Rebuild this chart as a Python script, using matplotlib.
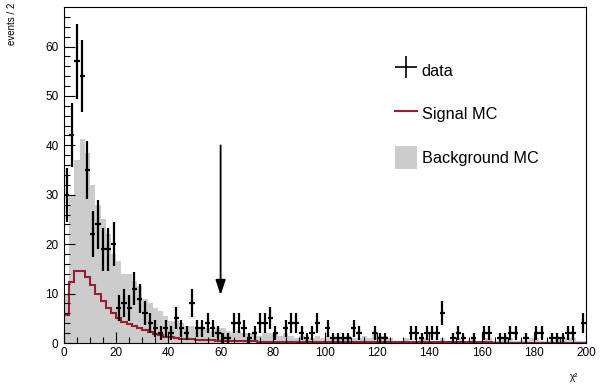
import numpy as np
import matplotlib
matplotlib.use("Agg")
import matplotlib.pyplot as plt
from matplotlib.lines import Line2D
from matplotlib.patches import Patch

plt.rcParams['font.family'] = ['Liberation Sans', 'DejaVu Sans']

# 100 bins of width 2 between 0 and 200
bin_edges = np.arange(0, 202, 2)
bin_centers = bin_edges[:-1] + 1

data_counts = [
    30, 42, 57, 54, 35, 22, 24, 19, 19, 20,
    7, 8, 7, 11, 9, 6, 4, 3, 2, 3,
    2, 5, 3, 2, 8, 3, 3, 4, 3, 2,
    1, 1, 4, 4, 3, 1, 2, 4, 4, 5,
    2, 0, 3, 4, 4, 2, 1, 2, 4, 0,
    3, 1, 1, 1, 1, 3, 2, 0, 0, 2,
    1, 1, 0, 0, 0, 0, 2, 2, 1, 2,
    2, 2, 6, 0, 1, 2, 1, 0, 1, 0,
    2, 2, 0, 1, 1, 2, 2, 0, 1, 0,
    2, 2, 0, 1, 1, 1, 2, 2, 0, 4,
]

background_mc = [
    10, 30, 37, 41.3, 38.5, 32, 28, 25, 22, 18,
    16.5, 14, 14, 12.5, 11.5, 9, 8, 7, 6.5, 5.5,
    4.5, 4.5, 4, 3.5, 3.5, 3, 3, 3, 2.5, 3,
    3, 2.5, 2, 2.5, 2, 2, 2, 1.5, 2, 2,
    2, 1.5, 2, 1.5, 1, 1.5, 1, 1, 1.5, 1,
    1.5, 1, 1, 1, 1.5, 1, 1, 1.5, 1, 2,
    1.5, 1.5, 1, 0.5, 0.5, 1, 0.5, 0.5, 1, 1,
    0.5, 0.5, 1, 0.5, 0.5, 1, 0.5, 0.5, 1, 0.5,
    1, 1, 0.5, 0.5, 1, 1, 0.5, 0.5, 0.5, 1,
    1, 0.5, 0.5, 0.5, 1, 0.5, 1, 1, 0.5, 0.5,
]

signal_mc = [
    5.7, 12.4, 14.6, 14.6, 13.4, 11.7, 10.0, 8.5, 7.1, 6.0,
    5.0, 4.3, 3.9, 3.4, 3.0, 2.6, 2.3, 1.9, 1.6, 1.3,
    1.15, 1.0, 0.9, 0.8, 0.75, 0.7, 0.65, 0.6, 0.55, 0.5,
    0.45, 0.42, 0.4, 0.38, 0.36, 0.34, 0.32, 0.3, 0.29, 0.28,
    0.27, 0.26, 0.25, 0.24, 0.23, 0.22, 0.21, 0.2, 0.2, 0.19,
    0.19, 0.18, 0.18, 0.18, 0.17, 0.17, 0.17, 0.16, 0.16, 0.16,
    0.15, 0.15, 0.15, 0.15, 0.14, 0.14, 0.14, 0.14, 0.13, 0.13,
    0.13, 0.13, 0.12, 0.12, 0.12, 0.12, 0.12, 0.11, 0.11, 0.11,
    0.11, 0.11, 0.1, 0.1, 0.1, 0.1, 0.1, 0.1, 0.1, 0.1,
    0.1, 0.1, 0.1, 0.1, 0.1, 0.1, 0.1, 0.1, 0.1, 0.1,
]

cut_value = 60
arrow_top = 40
arrow_tip = 9.7

bkg_color = '#cccccc'
sig_color = '#9b1b30'

fig = plt.figure(figsize=(6.0, 3.86), dpi=100)
ax = fig.add_axes([64 / 600, 43 / 386, 522 / 600, 336 / 386])

ax.stairs(background_mc, bin_edges, fill=True, color=bkg_color, lw=0)
ax.stairs(signal_mc, bin_edges, color=sig_color, lw=1.5, baseline=None)

counts = np.array(data_counts, dtype=float)
has_data = counts > 0
ax.errorbar(bin_centers[has_data], counts[has_data], xerr=1,
            yerr=np.sqrt(counts[has_data]), fmt='none', ecolor='black',
            elinewidth=1.6, capsize=0)

ax.annotate('', xy=(cut_value, arrow_tip), xytext=(cut_value, arrow_top),
            arrowprops=dict(arrowstyle='-|>,head_length=0.6,head_width=0.2',
                            color='black', lw=1.3, mutation_scale=15,
                            shrinkA=0, shrinkB=0))

ax.set_xlim(0, 200)
ax.set_ylim(0, 68)
ax.set_xticks(np.arange(0, 201, 20))
ax.set_xticks(np.arange(0, 201, 5), minor=True)
ax.set_yticks(np.arange(0, 61, 10))
ax.set_yticks(np.arange(0, 68, 2), minor=True)
ax.tick_params(which='both', direction='in', top=False, right=False,
               labelsize=8.5, width=0.8)
ax.tick_params(which='major', length=8)
ax.tick_params(which='minor', length=4)
ax.tick_params(axis='x', pad=3)
ax.tick_params(axis='y', pad=4)
for spine in ax.spines.values():
    spine.set_linewidth(0.8)

ax.set_xlabel('χ²', fontsize=7, loc='right')
ax.xaxis.set_label_coords(0.985, -0.085)
ax.set_ylabel('events / 2', fontsize=7, loc='top')
ax.yaxis.set_label_coords(-0.09, 1.012)

handles = [
    Line2D([], [], color='black', marker='+', linestyle='none',
           markersize=16, markeredgewidth=1.2),
    Line2D([], [], color=sig_color, lw=1.5),
    Patch(facecolor=bkg_color, edgecolor='none'),
]
labels = ['data', 'Signal MC', 'Background MC']
fig.legend(handles, labels, loc='upper left',
           bbox_to_anchor=(395 / 600, 1 - 59 / 386), frameon=False,
           fontsize=11.7, handlelength=1.35, handleheight=1.85,
           handletextpad=0.3, labelspacing=1.22, borderpad=0,
           borderaxespad=0)

fig.savefig('out.png', dpi=100)
